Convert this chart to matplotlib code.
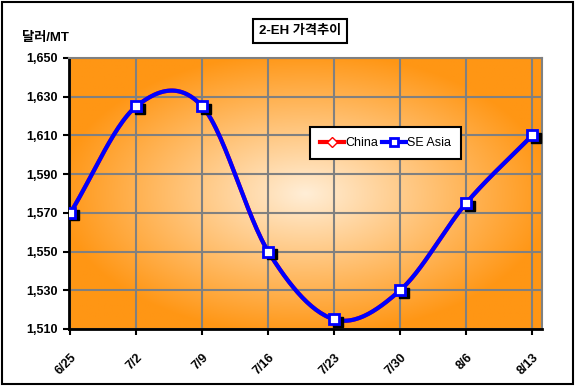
import numpy as np
import matplotlib
matplotlib.use("Agg")
import matplotlib.pyplot as plt
from matplotlib.patches import Rectangle
from matplotlib.lines import Line2D

plt.rcParams['font.family'] = ['Liberation Sans', 'Noto Sans CJK KR', 'DejaVu Sans']

# data
dates = ["6/25", "7/2", "7/9", "7/16", "7/23", "7/30", "8/6", "8/13"]
china = [1570, 1625, 1625, 1550, 1515, 1530, 1575, 1610]
se_asia = [1570, 1625, 1625, 1550, 1515, 1530, 1575, 1610]
yticks = [1510, 1530, 1550, 1570, 1590, 1610, 1630, 1650]


def smooth(x, y, n=30):
    # Catmull-Rom style smoothing like Excel's smoothed line
    x = np.asarray(x, float)
    y = np.asarray(y, float)
    px = np.concatenate([[2 * x[0] - x[1]], x, [2 * x[-1] - x[-2]]])
    py = np.concatenate([[2 * y[0] - y[1]], y, [2 * y[-1] - y[-2]]])
    xs, ys = [], []
    t = np.linspace(0, 1, n)
    for i in range(1, len(px) - 2):
        for p, out in ((px, xs), (py, ys)):
            p0, p1, p2, p3 = p[i - 1], p[i], p[i + 1], p[i + 2]
            out.extend(0.5 * ((2 * p1) + (-p0 + p2) * t
                              + (2 * p0 - 5 * p1 + 4 * p2 - p3) * t ** 2
                              + (-p0 + 3 * p1 - 3 * p2 + p3) * t ** 3))
    return np.array(xs), np.array(ys)


fig = plt.figure(figsize=(5.75, 3.86), dpi=100)
fig.patches.append(Rectangle((0.003, 0.004), 0.994, 0.992, transform=fig.transFigure,
                             fill=False, edgecolor='black', linewidth=1.5))

ax = fig.add_axes([69 / 575, 1 - 329 / 386, (542 - 69) / 575, (329 - 58) / 386])

x = np.arange(len(dates))
xmin, xmax = -0.02, len(dates) - 1 + 0.15

# radial orange gradient background
gx, gy = np.meshgrid(np.linspace(-1, 1, 300), np.linspace(-1, 1, 200))
r = np.clip(np.sqrt(gx ** 2 + gy ** 2) / 1.05, 0, 1)
c_in = np.array([255, 238, 215]) / 255
c_out = np.array([255, 150, 20]) / 255
img = c_in[None, None, :] * (1 - r[..., None]) + c_out[None, None, :] * r[..., None]
ax.imshow(img, extent=[xmin, xmax, 1510, 1650], aspect='auto', zorder=0)

ax.set_xlim(xmin, xmax)
ax.set_ylim(1510, 1650)
ax.set_yticks(yticks)
ax.set_yticklabels([f"{v:,}" for v in yticks], fontsize=9, fontweight='bold')
ax.set_xticks(x)
ax.set_xticklabels(dates, rotation=45, ha='right', va='top', fontsize=9,
                   fontweight='bold', rotation_mode='anchor')
ax.tick_params(axis='x', length=4, width=1.5, pad=12)
ax.tick_params(axis='y', length=4, width=1.5, pad=4)
ax.grid(True, color='#808080', linewidth=1.5, zorder=1)
for s in ['top', 'right']:
    ax.spines[s].set_color('#808080')
    ax.spines[s].set_linewidth(1.5)
for s in ['left', 'bottom']:
    ax.spines[s].set_linewidth(2)

cx, cy = smooth(x, china)
ax.plot(cx, cy, color='red', linewidth=3, zorder=2)
sx, sy = smooth(x, se_asia)
ax.plot(sx, sy, color='blue', linewidth=3, zorder=3)
ax.plot(x + 0.06, np.array(se_asia) - 1.2, 's', color='black', markersize=7, zorder=3.5)
ax.plot(x, se_asia, 's', markerfacecolor='white', markeredgecolor='blue',
        markeredgewidth=2, markersize=7, zorder=4)

handles = [
    Line2D([], [], color='red', linewidth=3, marker='D', markerfacecolor='white',
           markeredgecolor='red', markersize=5),
    Line2D([], [], color='blue', linewidth=3, marker='s', markerfacecolor='white',
           markeredgecolor='blue', markeredgewidth=2, markersize=6),
]
leg = ax.legend(handles, ["China", "SE Asia"], loc='upper left',
                bbox_to_anchor=(0.51, 0.745), ncol=2, frameon=True, fancybox=False,
                edgecolor='black', framealpha=1, handlelength=1.9,
                handletextpad=0.1, columnspacing=0.3, borderpad=0.8,
                borderaxespad=0, prop={'size': 9})
leg.get_frame().set_linewidth(1.5)

# title with shadow box
fig.text(300 / 575, 1 - 31 / 386, "2-EH 가격추이", ha='center', va='center',
         fontsize=9.5, fontweight='bold',
         bbox=dict(boxstyle='square,pad=0.45', facecolor='white', edgecolor='black',
                   linewidth=1.5))
fig.text(22 / 575, 1 - 38 / 386, "달러/MT", ha='left', va='center',
         fontsize=9.5, fontweight='bold')

fig.savefig("out.png", dpi=100)
